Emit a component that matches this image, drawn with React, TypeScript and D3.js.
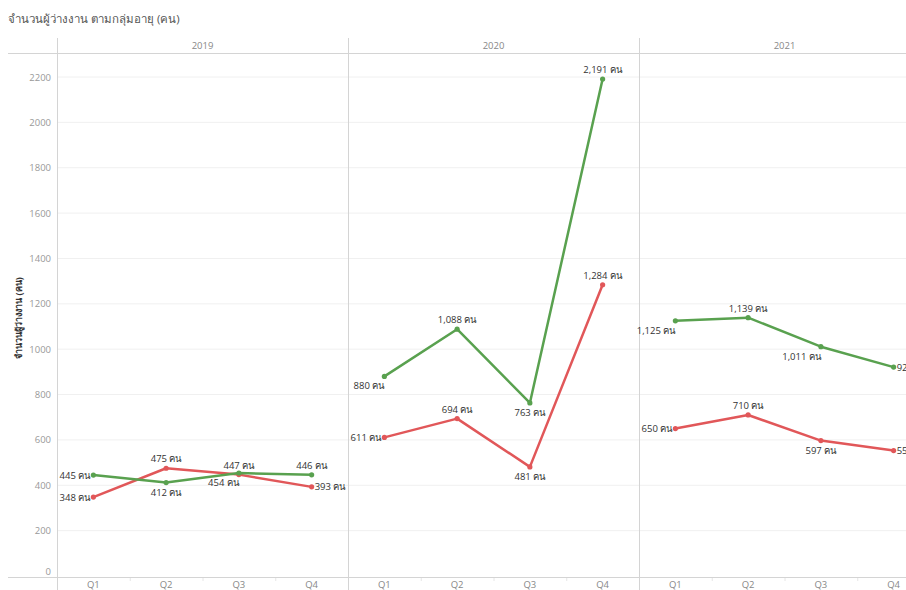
import React from 'react';
import * as d3 from 'd3';

const years = ['2019', '2020', '2021'];
const quarters = ['Q1', 'Q2', 'Q3', 'Q4'];
const greenValues = [445, 412, 454, 446, 880, 1088, 763, 2191, 1125, 1139, 1011, 921];
const redValues = [348, 475, 447, 393, 611, 694, 481, 1284, 650, 710, 597, 553];
const greenPlacement = ['L', 'B', 'BL', 'T', 'BL', 'T', 'B', 'T', 'BL', 'T', 'BL', 'R'];
const redPlacement = ['L', 'T', 'T', 'R', 'L', 'T', 'B', 'T', 'L', 'T', 'B', 'R'];
const yTicks = [0, 200, 400, 600, 800, 1000, 1200, 1400, 1600, 1800, 2000, 2200];
const unit = 'คน';
const title = 'จำนวนผู้ว่างงาน ตามกลุ่มอายุ  (คน)';
const yTitle = 'จำนวนผู้ว่างงาน (คน)';

const W = 906, H = 590;
const left = 57, panelW = 291, headerTop = 38, headerBottom = 53, axisY = 577;
const GREEN = '#59a14f', RED = '#e15759';
const FONT = '"Open Sans", "Noto Sans", sans-serif';

export default function App() {
  const xYear = d3.scaleBand<string>().domain(years).range([left, left + panelW * years.length]).paddingInner(0).paddingOuter(0);
  const xQ = d3.scaleBand<string>().domain(quarters).range([0, panelW]).padding(0);
  const y = d3.scaleLinear().domain([0, 2200]).range([576, 77]);
  const px = (i: number) => (xYear(years[Math.floor(i / 4)]) as number) + (xQ(quarters[i % 4]) as number) + xQ.bandwidth() / 2;

  const renderSeries = (vals: number[], color: string, key: string) => {
    const out: any[] = [];
    years.forEach((yr, yi) => {
      const pts = vals.slice(yi * 4, yi * 4 + 4).map((v, qi) => [px(yi * 4 + qi), y(v)] as [number, number]);
      const path = d3.line()(pts) as string;
      out.push(<path key={key + 'l' + yr} d={path} fill="none" stroke={color} strokeWidth={2.5} strokeLinejoin="round" />);
      pts.forEach((p, qi) => out.push(<circle key={key + 'c' + yr + qi} cx={p[0]} cy={p[1]} r={2.6} fill={color} />));
    });
    return out;
  };

  const renderLabels = (vals: number[], place: string[], key: string) =>
    vals.map((v, i) => {
      const x = px(i), yy = y(v);
      const p = place[i];
      let tx = x, ty = yy, anchor: any = 'middle';
      if (p === 'T') { ty = yy - 6; }
      else if (p === 'B') { ty = yy + 13; }
      else if (p === 'L') { tx = x - 3; ty = yy + 3.5; anchor = 'end'; }
      else if (p === 'R') { tx = x + 3; ty = yy + 3.5; anchor = 'start'; }
      else if (p === 'BL') { tx = x; ty = yy + 13; anchor = 'end'; }
      return (
        <text key={key + 't' + i} x={tx} y={ty} textAnchor={anchor} fontSize={9.5} fill="#333" fontFamily={FONT}>
          {d3.format(',')(v) + ' ' + unit}
        </text>
      );
    });

  return (
    <svg width={W} height={H} style={{ position: 'fixed', left: 0, top: 0, background: '#fff' }}>
      <rect x={0} y={0} width={W} height={H} fill="#fff" />
      <text x={8} y={23} fontSize={11.5} fill="#555" fontFamily={FONT}>{title}</text>

      {years.map(yr => yTicks.filter(t => t > 0).map(t => (
        <line key={'g' + yr + t} x1={(xYear(yr) as number)} x2={(xYear(yr) as number) + panelW} y1={y(t)} y2={y(t)} stroke="#f0f0f0" strokeWidth={1} />
      )))}

      <line x1={8} x2={W} y1={headerBottom + 0.5} y2={headerBottom + 0.5} stroke="#d4d4d4" />
      <line x1={8} x2={W} y1={axisY + 0.5} y2={axisY + 0.5} stroke="#d4d4d4" />
      {years.map(yr => (
        <line key={'v' + yr} x1={(xYear(yr) as number) + 0.5} x2={(xYear(yr) as number) + 0.5} y1={headerTop} y2={H} stroke="#d4d4d4" />
      ))}
      {years.map(yr => quarters.slice(1).map(q => (
        <line key={'qt' + yr + q} x1={(xYear(yr) as number) + (xQ(q) as number) + 0.5} x2={(xYear(yr) as number) + (xQ(q) as number) + 0.5} y1={axisY + 1} y2={axisY + 4} stroke="#e6e6e6" />
      )))}

      {years.map(yr => (
        <text key={'h' + yr} x={(xYear(yr) as number) + panelW / 2} y={49} textAnchor="middle" fontSize={9.5} fill="#888" fontFamily={FONT}>{yr}</text>
      ))}

      {yTicks.map(t => (
        <text key={'yt' + t} x={51} y={t === 0 ? y(t) - 1.5 : y(t) + 3.5} textAnchor="end" fontSize={9.5} fill="#999" fontFamily={FONT}>{t}</text>
      ))}
      <text transform={`translate(22,${318}) rotate(-90)`} textAnchor="middle" fontSize={9} fill="#333" fontWeight="bold" fontFamily={FONT}>{yTitle}</text>

      {years.map(yr => quarters.map(q => (
        <text key={'xl' + yr + q} x={(xYear(yr) as number) + (xQ(q) as number) + xQ.bandwidth() / 2} y={588} textAnchor="middle" fontSize={9.5} fill="#888" fontFamily={FONT}>{q}</text>
      )))}

      {renderSeries(redValues, RED, 'r')}
      {renderSeries(greenValues, GREEN, 'g')}
      {renderLabels(redValues, redPlacement, 'r')}
      {renderLabels(greenValues, greenPlacement, 'g')}
    </svg>
  );
}
